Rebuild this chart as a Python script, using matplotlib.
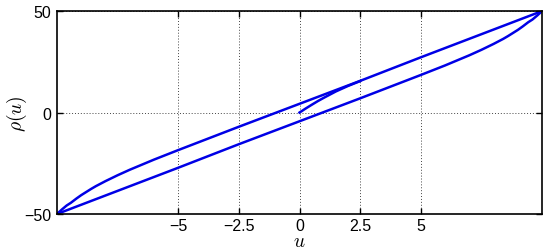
import matplotlib
matplotlib.use("Agg")
import matplotlib.pyplot as plt

# Initial loading curve (u, rho)
init_u = [0.0, 0.25, 0.5, 0.75, 1.0, 1.5, 2.0, 2.5]
init_rho = [0.0, 1.95, 3.8, 5.6, 7.25, 10.4, 13.1, 15.5]

# Upper branch (u, rho)
upper_u = [-10.0, -9.95, -9.9, -9.8, -9.7, -9.6, -9.43, -9.2, -9.0, -8.8, -8.6, -8.4, -8.0,
           -7.5, -7.0, -6.0, -5.0, -2.5, 0.0, 2.5, 5.0, 7.5, 10.0]
upper_rho = [-50.0, -49.4, -48.9, -47.8, -46.8, -45.8, -44.5, -42.4, -40.7, -39.2, -37.7,
             -36.3, -33.8, -30.9, -28.2, -23.2, -18.5, -7.0, 4.3, 15.6, 27.2, 38.6, 50.0]

# Lower branch (u, rho)
lower_u = [-10.0, -7.5, -5.0, -2.5, 0.0, 2.5, 5.0, 6.0, 7.0, 7.5, 8.0, 8.4, 8.6, 8.8, 9.0,
           9.2, 9.43, 9.6, 9.7, 9.8, 9.9, 9.95, 10.0]
lower_rho = [-50.0, -38.6, -27.2, -15.6, -4.3, 7.0, 18.5, 23.2, 28.2, 30.9, 33.8, 36.3,
             37.7, 39.2, 40.7, 42.4, 44.5, 45.8, 46.8, 47.8, 48.9, 49.4, 50.0]

xticks = [-5, -2.5, 0, 2.5, 5]
xticklabels = ["\u22125", "\u22122.5", "0", "2.5", "5"]
yticks = [-50, 0, 50]
yticklabels = ["\u221250", "0", "50"]

plt.rcParams['font.family'] = ['Liberation Sans', 'DejaVu Sans']
plt.rcParams['mathtext.fontset'] = 'cm'

fig = plt.figure(figsize=(5.5, 2.51), dpi=100)
ax = fig.add_axes([0.1036, 0.1434, 0.882, 0.8086])

color = '#0000e6'
lw = 1.8
ax.plot(init_u, init_rho, color=color, lw=lw)
ax.plot(upper_u, upper_rho, color=color, lw=lw)
ax.plot(lower_u, lower_rho, color=color, lw=lw)

ax.set_xlim(-10, 10)
ax.set_ylim(-50, 50)
ax.set_xticks(xticks)
ax.set_xticklabels(xticklabels)
ax.set_yticks(yticks)
ax.set_yticklabels(yticklabels)
ax.tick_params(direction='in', top=True, right=True, length=4, width=1,
               labelsize=11.5, pad=4, colors='black')
ax.tick_params(axis='x', pad=3)
ax.grid(True, linestyle=(0, (1, 2)), color='#444444', linewidth=0.7)
for s in ax.spines.values():
    s.set_linewidth(1.2)

ax.set_xlabel(r'$u$', fontsize=14, va='center')
ax.xaxis.set_label_coords(0.5, -0.135)
ax.set_ylabel(r'$\rho(u)$', fontsize=14, va='center')
ax.yaxis.set_label_coords(-0.082, 0.5)

fig.savefig('out.png', dpi=100)
